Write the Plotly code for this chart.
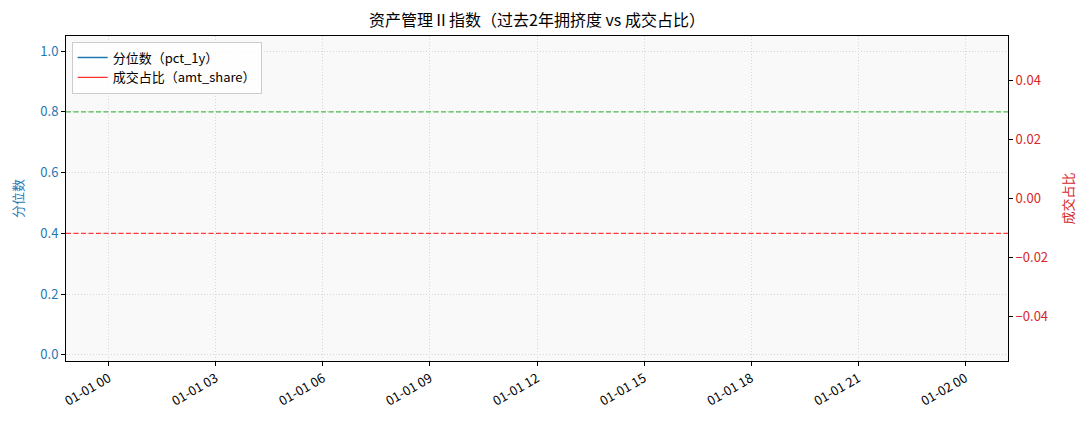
import plotly.graph_objects as go

# ---- data (the source chart has no data points) ----
dates = []
pct_1y = []
amt_share = []
threshold_levels = [0.8, 0.4]
threshold_colors = ["#4cba4c", "#ff3b3b"]
x_tick_vals = ["1970-01-01 00:00", "1970-01-01 03:00", "1970-01-01 06:00",
               "1970-01-01 09:00", "1970-01-01 12:00", "1970-01-01 15:00",
               "1970-01-01 18:00", "1970-01-01 21:00", "1970-01-02 00:00"]
x_tick_text = ["01-01 00", "01-01 03", "01-01 06", "01-01 09", "01-01 12",
               "01-01 15", "01-01 18", "01-01 21", "01-02 00"]
left_ticks = [0.0, 0.2, 0.4, 0.6, 0.8, 1.0]
right_ticks = [-0.04, -0.02, 0.0, 0.02, 0.04]

FONT = "Noto Sans CJK SC, Noto Sans, DejaVu Sans, sans-serif"
BLUE = "#1f77b4"
RED = "#d62728"
GRID = "#d6d6d6"

fig = go.Figure()
fig.add_trace(go.Scatter(x=dates if dates else [None], y=pct_1y if pct_1y else [None],
                         mode="lines", name="分位数（pct_1y）",
                         line=dict(color=BLUE, width=1.5), yaxis="y"))
fig.add_trace(go.Scatter(x=dates if dates else [None], y=amt_share if amt_share else [None],
                         mode="lines", name="成交占比（amt_share）",
                         line=dict(color="#ff3030", width=1.3), yaxis="y2"))

for lvl, col in zip(threshold_levels, threshold_colors):
    fig.add_shape(type="line", xref="paper", x0=0, x1=1, yref="y", y0=lvl, y1=lvl,
                  layer="above", line=dict(color=col, width=1.3, dash="5px,2.5px"))

fig.update_layout(
    width=1089, height=429,
    margin=dict(l=66, r=81, t=36, b=68),
    paper_bgcolor="white",
    plot_bgcolor="#f9f9f9",
    font=dict(family=FONT, size=13, color="black"),
    title=dict(text="资产管理Ⅱ指数（过去2年拥挤度 vs 成交占比）", x=0.5, xref="paper",
               y=0.952, yref="container", xanchor="center", yanchor="middle",
               font=dict(size=16, color="black")),
    showlegend=True,
    legend=dict(x=0.006, y=0.983, xanchor="left", yanchor="top",
                bgcolor="rgba(255,255,255,0.8)", bordercolor="#cccccc", borderwidth=1,
                font=dict(size=13), tracegroupgap=2),
    xaxis=dict(
        type="date", automargin=False,
        range=["1969-12-31 22:48", "1970-01-02 01:12"],
        tickvals=x_tick_vals, ticktext=x_tick_text, tickangle=-30,
        ticks="outside", ticklen=4, tickcolor="black",
        showgrid=True, gridcolor=GRID, griddash="1px,2px", gridwidth=1,
        showline=True, linecolor="black", linewidth=1, mirror=True,
        zeroline=False, tickfont=dict(size=13),
    ),
    yaxis=dict(
        automargin=False,
        range=[-0.02, 1.05], tickvals=left_ticks, tickformat=".1f",
        ticks="outside", ticklen=4, tickcolor="black",
        tickfont=dict(color=BLUE, size=13),
        title=dict(text="分位数", font=dict(color=BLUE, size=13), standoff=13),
        showgrid=True, gridcolor=GRID, griddash="1px,2px", gridwidth=1,
        showline=True, linecolor="black", linewidth=1, mirror=True,
        zeroline=False,
    ),
    yaxis2=dict(
        overlaying="y", side="right", automargin=False,
        range=[-0.0552, 0.0552], tickvals=right_ticks, tickformat=".2f",
        ticks="outside", ticklen=4, tickcolor="black",
        tickfont=dict(color=RED, size=13),
        title=dict(text="成交占比", font=dict(color=RED, size=13), standoff=16),
        showgrid=False, zeroline=False, showline=False,
    ),
)

fig.write_html("out.html", config={"displayModeBar": False},
               post_script="document.body.style.margin='0';document.body.style.padding='0';")
